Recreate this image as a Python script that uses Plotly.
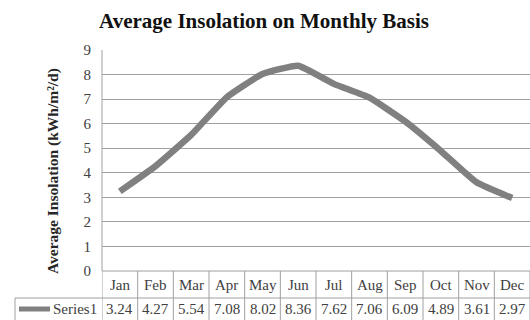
import plotly.graph_objects as go

months = ["Jan", "Feb", "Mar", "Apr", "May", "Jun", "Jul", "Aug", "Sep", "Oct", "Nov", "Dec"]
values = [3.24, 4.27, 5.54, 7.08, 8.02, 8.36, 7.62, 7.06, 6.09, 4.89, 3.61, 2.97]
series_name = "Series1"
y_ticks = [0, 1, 2, 3, 4, 5, 6, 7, 8, 9]
title_text = "Average Insolation on Monthly Basis"
y_title = "Average Insolation (kWh/m²/d)"

W, H = 530, 320
ML, MR, MT, MB = 102, 0, 50, 49
PW, PH = W - ML - MR, H - MT - MB

def px_x(p):  # page pixel x -> paper
    return (p - ML) / PW

def px_y(p):  # page pixel y -> paper
    return (H - MB - p) / PH

FONT = "Liberation Serif, Times New Roman, serif"
GRID = "#a0a0a0"
LINE = "#808080"

fig = go.Figure()
fig.add_trace(go.Scatter(
    x=list(range(len(months))), y=values, mode="lines", name=series_name,
    line=dict(color=LINE, width=6.5, shape="spline", smoothing=0.4),
    showlegend=False, hoverinfo="skip",
))

shapes = []
shapes.append(dict(type="line", xref="paper", yref="paper", x0=0, x1=1, y0=0, y1=0,
                   line=dict(color=GRID, width=1)))
row_y = px_y(298)
shapes.append(dict(type="line", xref="paper", yref="paper", x0=px_x(15), x1=1, y0=row_y, y1=row_y,
                   line=dict(color=GRID, width=1)))
for k in range(len(months) + 1):
    shapes.append(dict(type="line", xref="x", yref="paper", x0=k - 0.5, x1=k - 0.5,
                       y0=0, y1=px_y(330), line=dict(color=GRID, width=1)))
shapes.append(dict(type="line", xref="paper", yref="paper", x0=0, x1=0, y0=0, y1=1,
                   line=dict(color=GRID, width=1)))
shapes.append(dict(type="line", xref="paper", yref="paper", x0=px_x(15), x1=px_x(15),
                   y0=row_y, y1=px_y(330), line=dict(color=GRID, width=1)))
shapes.append(dict(type="line", xref="paper", yref="paper", x0=px_x(19), x1=px_x(50),
                   y0=px_y(309), y1=px_y(309), line=dict(color=LINE, width=5)))

annotations = []
for i, (m, v) in enumerate(zip(months, values)):
    annotations.append(dict(x=i, xref="x", y=px_y(285), yref="paper", text=m, showarrow=False,
                            xanchor="center", yanchor="middle",
                            font=dict(family=FONT, size=15, color="#404040")))
    annotations.append(dict(x=i, xref="x", y=px_y(309), yref="paper", text=f"{v:.2f}", showarrow=False,
                            xanchor="center", yanchor="middle",
                            font=dict(family=FONT, size=15, color="#404040")))
annotations.append(dict(x=px_x(99), xref="paper", y=px_y(309), yref="paper", text=series_name,
                        showarrow=False, xanchor="right", yanchor="middle",
                        font=dict(family=FONT, size=15, color="#404040")))
annotations.append(dict(x=px_x(53), xref="paper", y=px_y(171), yref="paper", text=f"<b>{y_title}</b>",
                        showarrow=False, xanchor="center", yanchor="middle", textangle=-90,
                        font=dict(family=FONT, size=15.5, color="#262626")))

fig.update_layout(
    width=W, height=H,
    margin=dict(l=ML, r=MR, t=MT, b=MB, pad=0),
    paper_bgcolor="white", plot_bgcolor="white",
    title=dict(text=f"<b>{title_text}</b>", x=264 / W, xanchor="center", xref="container",
               y=1 - 21 / H, yanchor="middle", yref="container",
               font=dict(family=FONT, size=21, color="#111111")),
    xaxis=dict(range=[-0.5, len(months) - 0.5], showticklabels=False, showgrid=False,
               zeroline=False, showline=False, ticks="", fixedrange=True),
    yaxis=dict(range=[0, 9], tickvals=y_ticks, showgrid=True, gridcolor=GRID, gridwidth=1,
               zeroline=False, showline=False, ticks="", ticklabelstandoff=10,
               tickfont=dict(family=FONT, size=15, color="#404040")),
    shapes=shapes, annotations=annotations, showlegend=False,
)

fig.write_html("out.html")
